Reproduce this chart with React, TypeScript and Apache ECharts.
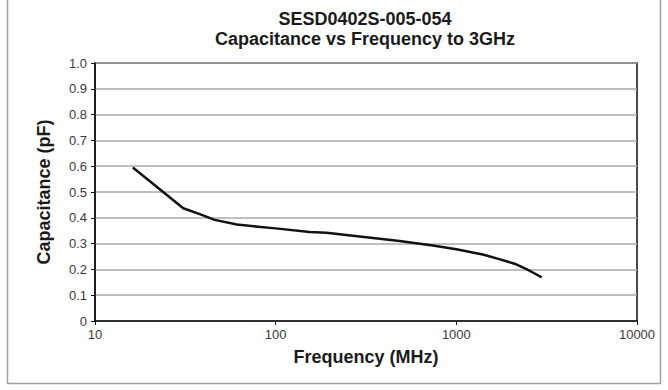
import React, { useEffect, useRef } from "react";
import * as echarts from "echarts";

const titleLines = ["SESD0402S-005-054", "Capacitance vs Frequency to 3GHz"];
const xAxisName = "Frequency (MHz)";
const yAxisName = "Capacitance (pF)";
const freqMHz = [16.2, 30.8, 38, 46, 61, 80, 100, 154, 191, 300, 485, 741, 1000, 1400, 1730, 2100, 2430, 2700, 2970];
const capPF = [0.595, 0.437, 0.414, 0.392, 0.374, 0.365, 0.359, 0.345, 0.342, 0.327, 0.31, 0.293, 0.278, 0.258, 0.24, 0.222, 0.202, 0.185, 0.169];

export default function App() {
  const ref = useRef<HTMLDivElement>(null);
  useEffect(() => {
    const chart = echarts.init(ref.current!, null, { renderer: "svg" });
    const font = "'Liberation Sans', Arial, Helvetica, sans-serif";
    chart.setOption({
      animation: false,
      backgroundColor: "#ffffff",
      textStyle: { fontFamily: font },
      title: {
        text: titleLines.join("\n"),
        left: 360,
        top: 4,
        textAlign: "center",
        textStyle: { fontFamily: font, fontSize: 18, fontWeight: "bold", color: "#1a1a1a", lineHeight: 20 },
      },
      graphic: [
        {
          type: "rect",
          shape: { x: 7.5, y: -2, width: 653, height: 385.5 },
          style: { fill: "none", stroke: "#a0a0a0", lineWidth: 1.5 },
          silent: true,
        },
      ],
      grid: { left: 95, top: 63, right: 31, bottom: 69, show: true, borderColor: "#111", borderWidth: 1.5, backgroundColor: "transparent" },
      xAxis: {
        type: "log",
        logBase: 10,
        min: 10,
        max: 10000,
        name: xAxisName,
        nameLocation: "middle",
        nameGap: 27,
        nameTextStyle: { fontFamily: font, fontSize: 18, fontWeight: "bold", color: "#1a1a1a" },
        axisLine: { lineStyle: { color: "#111", width: 1.5 } },
        axisTick: { show: true, length: 4, lineStyle: { color: "#111" } },
        minorTick: { show: false },
        axisLabel: { fontFamily: font, fontSize: 13, color: "#3a3a3a", margin: 7, formatter: (v: number) => String(Math.round(v)) },
        splitLine: { show: false },
      },
      yAxis: {
        type: "value",
        min: 0,
        max: 1,
        interval: 0.1,
        name: yAxisName,
        nameLocation: "middle",
        nameGap: 42,
        nameTextStyle: { fontFamily: font, fontSize: 18, fontWeight: "bold", color: "#1a1a1a" },
        axisLine: { show: true, lineStyle: { color: "#111", width: 1.5 } },
        axisTick: { show: true, length: 4, lineStyle: { color: "#111" } },
        axisLabel: {
          fontFamily: font,
          fontSize: 13,
          color: "#3a3a3a",
          margin: 8,
          formatter: (v: number) => (v === 0 ? "0" : v.toFixed(1)),
        },
        splitLine: { show: true, lineStyle: { color: "#aaaaaa", width: 1.5 } },
      },
      series: [
        {
          type: "line",
          data: freqMHz.map((f, i) => [f, capPF[i]]),
          smooth: false,
          showSymbol: false,
          lineStyle: { color: "#111", width: 2.5, join: "round" },
        },
      ],
    });
    return () => chart.dispose();
  }, []);
  return (
    <div
      ref={ref}
      style={{ position: "absolute", left: 0, top: 0, width: 668, height: 390 }}
    />
  );
}
